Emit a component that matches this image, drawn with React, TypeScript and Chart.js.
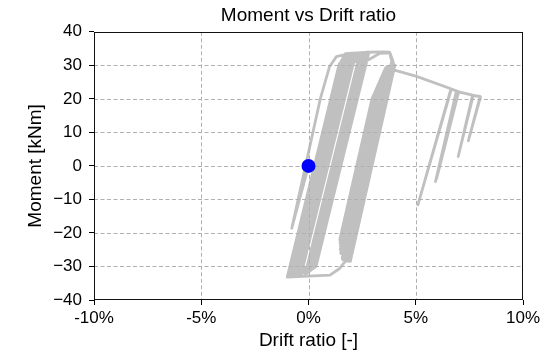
import { useEffect, useRef } from "react";
import { Chart, registerables } from "chart.js";

Chart.register(...registerables);

// Recorded hysteresis path: drift ratio in percent, moment in kNm
const drift: number[] = [
  0, -0.78, 0.55, 0.98, 1.3, 1.95, -0.52, -0.95,
  1.45, 1.7, 2.45, -0.02, -0.7,
  1.72, 1.97, 2.82, 0.35, -0.36,
  2.06, 2.31, 2.73, 0.26, -0.84,
  1.59, 1.84, 2.42, -0.05, -0.6,
  1.82, 2.07, 2.65, 0.18, -0.5,
  1.92, 2.17, 2.77, 0.3, -0.15,
  2.27, 2.52, 2.69, 0.22, -0.91,
  1.52, 1.77, 2.54, 0.07, -0.41,
  2.01, 2.26, 2.81, 0.34, -0.11,
  2.31, 2.56, 2.76, 0.29, -0.77,
  1.65, 1.9, 2.6, 0.13, -0.34,
  2.08, 2.33, 2.65, 0.18, -0.98,
  1.46, 1.72, 2.8, 3.4, 3.78, 3.88, 1.77, 1.45, 1.0, -0.99,
  1.43, 2.78, 3.33, 3.8, 3.95, 1.85,
  1.46, 2.96, 3.6, 3.98, 1.89,
  1.49, 3.04, 3.62, 4.02, 1.94,
  1.5, 3.12, 3.66, 3.93, 1.84,
  1.57, 3.24, 3.72, 4.0, 1.92,
  1.59, 3.28, 3.74, 3.88, 1.8,
  1.66, 3.36, 3.8, 3.96, 1.88,
  1.72, 3.44, 3.86, 4.03, 1.95,
  1.47, 3.0, 3.61, 3.9, 1.82,
  1.48, 3.08, 3.64, 3.96, 1.87,
  1.75, 3.47, 3.9, 4.05,
  5.04, 6.64,
  5.1, 6.66, 6.9,
  5.92, 6.93, 5.97, 6.97, 6.02, 7.0,
  7.65,
  6.98, 7.68, 8.0,
  7.45, 8.02,
];

const moment: number[] = [
  0, -18.6, 20.0, 29.6, 32.6, 33.6, -30.0, -32.8,
  30.3, 33.3, 33.8, -30.0, -32.6,
  30.3, 33.3, 33.9, -30.0, -32.3,
  30.3, 33.3, 33.8, -30.0, -32.8,
  30.3, 33.3, 33.7, -30.0, -32.6,
  30.3, 33.3, 33.8, -30.0, -32.5,
  30.3, 33.3, 33.9, -30.0, -32.2,
  30.3, 33.3, 33.7, -30.0, -32.9,
  30.3, 33.3, 33.8, -30.0, -32.4,
  30.3, 33.3, 33.9, -30.0, -32.2,
  30.3, 33.2, 33.8, -30.0, -32.7,
  30.3, 33.3, 33.8, -30.0, -32.3,
  30.3, 33.3, 33.7, -30.0, -33.0,
  30.4, 33.5, 33.9, 34.0, 33.9, 31.2, -28.0, -30.6, -32.6, -33.2,
  30.4, 31.6, 33.6, 33.7, 31.0, -28.3,
  -22.0, 20.0, 29.3, 30.3, -28.3,
  -24.0, 20.0, 29.0, 30.1, -28.3,
  -26.0, 20.0, 29.2, 30.2, -28.4,
  -27.5, 20.0, 29.0, 30.0, -28.3,
  -28.0, 20.0, 29.0, 29.8, -28.2,
  -28.2, 20.0, 28.8, 30.0, -28.3,
  -28.4, 20.0, 28.9, 30.1, -28.5,
  -23.0, 20.0, 29.3, 30.0, -28.3,
  -25.0, 20.0, 29.1, 30.2, -28.4,
  -28.4, 20.0, 28.4, 28.5,
  26.7, 23.0,
  -11.6, 22.9, 22.4,
  -4.7, 22.3, -3.8, 22.2, -2.6, 22.1,
  21.1,
  2.8, 21.0, 20.7,
  7.5, 20.6,
];

// Current state marker
const markerDrift = [0];
const markerMoment = [0];

const xTickValues = [-10, -5, 0, 5, 10];
const yTickValues = [-40, -30, -20, -10, 0, 10, 20, 30, 40];

const FONT = "'Liberation Sans', Arial, sans-serif";

// Dashed grid drawn over the hysteresis trace but under the marker,
// plus a full black frame around the plot area.
const gridAndFrame = {
  id: "gridAndFrame",
  beforeDatasetDraw(chart: any, args: any) {
    if (args.index !== 0) return;
    const { ctx, chartArea: a, scales } = chart;
    ctx.save();
    ctx.beginPath();
    ctx.rect(a.left, a.top, a.right - a.left, a.bottom - a.top);
    ctx.clip();
    ctx.strokeStyle = "#b0b0b0";
    ctx.lineWidth = 1;
    ctx.setLineDash([4, 2.5]);
    for (const v of xTickValues) {
      const px = Math.round(scales.x.getPixelForValue(v)) + 0.5;
      ctx.beginPath();
      ctx.moveTo(px, a.top);
      ctx.lineTo(px, a.bottom);
      ctx.stroke();
    }
    for (const v of yTickValues) {
      const py = Math.round(scales.y.getPixelForValue(v)) + 0.5;
      ctx.beginPath();
      ctx.moveTo(a.left, py);
      ctx.lineTo(a.right, py);
      ctx.stroke();
    }
    ctx.restore();
  },
  afterDraw(chart: any) {
    const { ctx, chartArea: a } = chart;
    ctx.save();
    ctx.strokeStyle = "#111";
    ctx.lineWidth = 1;
    ctx.setLineDash([]);
    const l = Math.round(a.left) + 0.5;
    const t = Math.round(a.top) + 0.5;
    const r = Math.round(a.right) - 0.5;
    const b = Math.round(a.bottom) - 0.5;
    ctx.strokeRect(l, t, r - l, b - t);
    ctx.restore();
  },
};

export default function App() {
  const canvasRef = useRef<HTMLCanvasElement | null>(null);

  useEffect(() => {
    const canvas = canvasRef.current;
    if (!canvas) return;

    const trace = drift.map((x, i) => ({ x, y: moment[i] }));
    const marker = markerDrift.map((x, i) => ({ x, y: markerMoment[i] }));

    const chart = new Chart(canvas, {
      type: "scatter",
      data: {
        datasets: [
          {
            label: "Current",
            data: marker,
            backgroundColor: "#0000ff",
            borderColor: "#0000ff",
            borderWidth: 0,
            pointRadius: 7,
            clip: false,
          },
          {
            label: "Hysteresis",
            data: trace,
            showLine: true,
            borderColor: "#c0c0c0",
            borderWidth: 2.8,
            pointRadius: 0,
            borderJoinStyle: "round",
            borderCapStyle: "round",
            tension: 0,
          },
        ],
      },
      options: {
        responsive: false,
        animation: false,
        devicePixelRatio: 1,
        layout: { padding: { left: 0, right: 31, top: 0, bottom: 0 } },
        plugins: {
          legend: { display: false },
          tooltip: { enabled: false },
          title: {
            display: true,
            text: "Moment vs Drift ratio",
            color: "#000",
            fullSize: false,
            font: { family: FONT, size: 19, weight: "normal" },
            padding: { top: 4, bottom: 5 },
          },
        },
        scales: {
          x: {
            type: "linear",
            min: -10,
            max: 10,
            afterFit: (s: any) => {
              s.height = 53;
            },
            ticks: {
              stepSize: 5,
              autoSkip: false,
              maxRotation: 0,
              color: "#000",
              padding: 3,
              font: { family: FONT, size: 17 },
              callback: (v: any) => `${v}%`,
            },
            grid: {
              drawOnChartArea: false,
              drawTicks: true,
              tickLength: 5,
              tickColor: "#000",
              tickWidth: 1,
            },
            border: { display: false },
            title: {
              display: true,
              text: "Drift ratio [-]",
              color: "#000",
              font: { family: FONT, size: 19 },
              padding: { top: 0, bottom: 1 },
            },
          },
          y: {
            type: "linear",
            min: -40,
            max: 40,
            afterFit: (s: any) => {
              s.width = 94;
            },
            ticks: {
              stepSize: 10,
              autoSkip: false,
              color: "#000",
              padding: 7,
              font: { family: FONT, size: 17 },
              callback: (v: any) => {
                const n = Number(v);
                return n < 0 ? `\u2212${Math.abs(n)}` : `${n}`;
              },
            },
            grid: {
              drawOnChartArea: false,
              drawTicks: true,
              tickLength: 5,
              tickColor: "#000",
              tickWidth: 1,
            },
            border: { display: false },
            title: {
              display: true,
              text: "Moment [kNm]",
              color: "#000",
              font: { family: FONT, size: 19 },
              padding: { top: 24, bottom: 0 },
            },
          },
        },
      },
      plugins: [gridAndFrame],
    } as any);

    return () => chart.destroy();
  }, []);

  return (
    <div
      style={{
        position: "absolute",
        left: 0,
        top: 0,
        width: 554,
        height: 353,
        background: "#fff",
      }}
    >
      <canvas ref={canvasRef} width={554} height={353} />
    </div>
  );
}
